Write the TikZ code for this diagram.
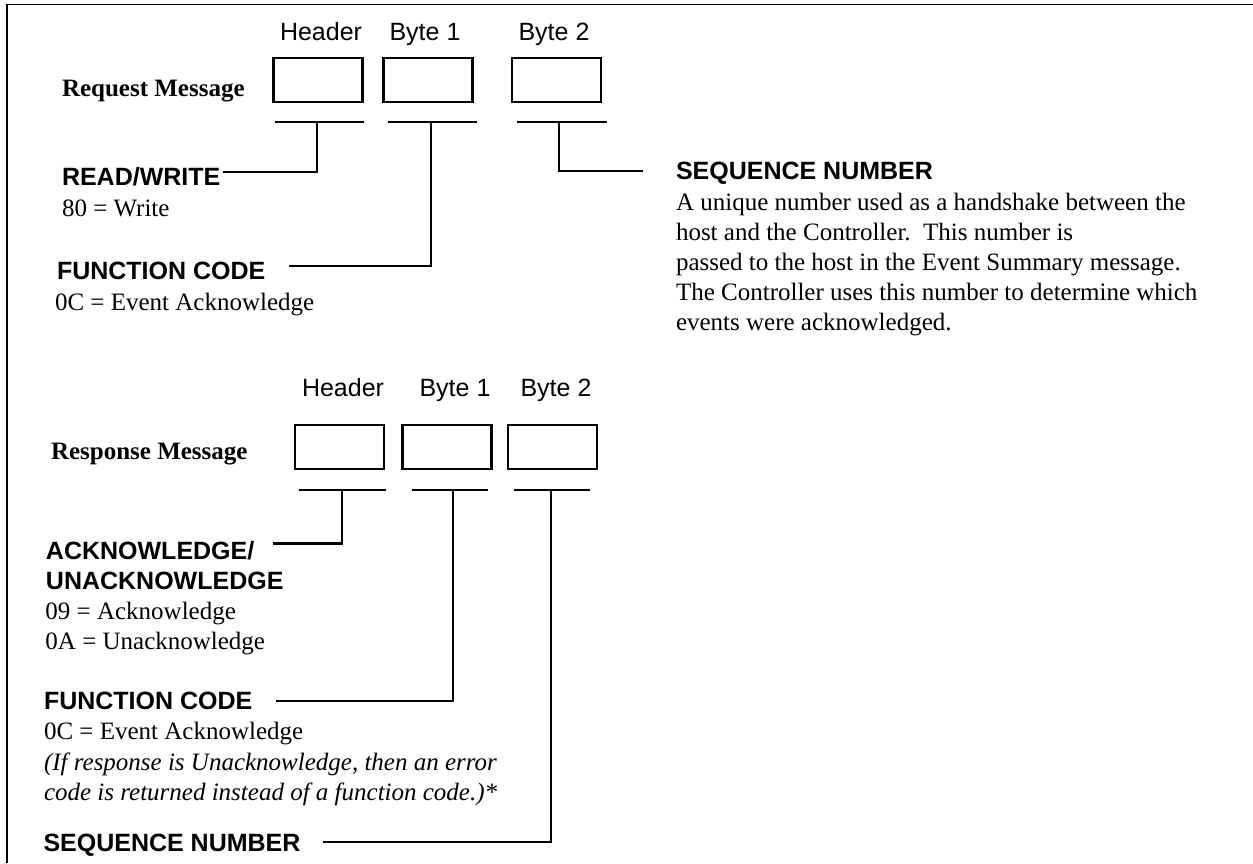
\documentclass[tikz,border=0pt]{standalone}
\usepackage{fontspec}
\setmainfont{Liberation Serif}
\newfontfamily\labelsans{Liberation Sans}
\begin{document}
\begin{tikzpicture}[x=0.5pt,y=-0.5pt,
  every node/.style={inner sep=0pt, outer sep=0pt},
  txt/.style={anchor=base west, font=\fontsize{12.5}{15}\selectfont},
  note/.style={anchor=base west, font=\itshape\fontsize{12.5}{15}\selectfont},
  msg/.style={anchor=base west, font=\bfseries\fontsize{12.5}{15}\selectfont},
  head/.style={anchor=base west, font=\labelsans\bfseries\fontsize{12.5}{15}\selectfont},
  fld/.style={anchor=base, font=\labelsans\fontsize{12.5}{15}\selectfont},
  cell/.style={draw, line width=1.2pt, minimum width=44.5pt, minimum height=22pt},
  bar/.style={line width=1.1pt},
  wire/.style={line width=1.1pt},
  frame/.style={line width=0.8pt}]

\useasboundingbox (0,0) rectangle (1253,863);

% open frame: left and top edges only
\coordinate (frBL) at (7,863);
\coordinate (frTL) at (7,4.5);
\coordinate (frTR) at (1253,4.5);
\draw[frame] (frBL) -- (frTL) -- (frTR);

% ---------------- Request message ----------------
\node[fld] (rqHlab) at (321,40.7) {Header};
\node[fld] (rqB1lab) at (425,40.7) {Byte 1};
\node[fld] (rqB2lab) at (554,40.7) {Byte 2};

\node[cell] (rqH)  at (318,79.7) {};
\node[cell] (rqB1) at (427.8,79.7) {};
\node[cell] (rqB2) at (556.7,79.7) {};

\node[msg] (rqMsg) at (62,96) {Request Message};

% underline bars and their taps
\coordinate (rqHbL) at (275,121.7);   \coordinate (rqHbR) at (364,121.7);
\coordinate (rqB1bL) at (388.3,121.7); \coordinate (rqB1bR) at (477.3,121.7);
\coordinate (rqB2bL) at (517.3,121.7); \coordinate (rqB2bR) at (606.7,121.7);
\draw[bar] (rqHbL) -- (rqHbR);
\draw[bar] (rqB1bL) -- (rqB1bR);
\draw[bar] (rqB2bL) -- (rqB2bR);
\coordinate (rqHtap) at (317.3,121.7);
\coordinate (rqB1tap) at (430.7,121.7);
\coordinate (rqB2tap) at (559,121.7);

% field descriptions
\node[head] (rw) at (62,185) {READ/WRITE};
\node[txt] (rwv) at (62,216) {80 = Write};
\node[head] (fc) at (57,279) {FUNCTION CODE};
\node[txt] (fcv) at (55,310) {0C = Event Acknowledge};

\node[head] (sq) at (676,179.3) {SEQUENCE NUMBER};
\node[txt] (sq1) at (676,210) {A unique number used as a handshake between the};
\node[txt] (sq2) at (676,240) {host and the Controller.\ \ This number is};
\node[txt] (sq3) at (676,270) {passed to the host in the Event Summary message.};
\node[txt] (sq4) at (676,300) {The Controller uses this number to determine which};
\node[txt] (sq5) at (676,330) {events were acknowledged.};

\coordinate (rwEnd) at (223,171.7);
\coordinate (fcEnd) at (289,266);
\coordinate (sqEnd) at (643,171);
\draw[wire] (rqHtap) |- (rwEnd);
\draw[wire] (rqB1tap) |- (fcEnd);
\draw[wire] (rqB2tap) |- (sqEnd);

% ---------------- Response message ----------------
\node[fld] (rsHlab) at (343,396.7) {Header};
\node[fld] (rsB1lab) at (455,396.7) {Byte 1};
\node[fld] (rsB2lab) at (556,396.7) {Byte 2};

\node[cell] (rsH)  at (339.3,447.2) {};
\node[cell] (rsB1) at (446.8,447.2) {};
\node[cell] (rsB2) at (552.3,447.2) {};

\node[msg] (rsMsg) at (51,459) {Response Message};

\coordinate (rsHbL) at (298.8,490);  \coordinate (rsHbR) at (386,490);
\coordinate (rsB1bL) at (411.6,490); \coordinate (rsB1bR) at (488,490);
\coordinate (rsB2bL) at (514,490);   \coordinate (rsB2bR) at (590,490);
\draw[bar] (rsHbL) -- (rsHbR);
\draw[bar] (rsB1bL) -- (rsB1bR);
\draw[bar] (rsB2bL) -- (rsB2bR);
\coordinate (rsHtap) at (341.7,490);
\coordinate (rsB1tap) at (453.3,490);
\coordinate (rsB2tap) at (551.3,490);

\node[head] (ak1) at (46,559) {ACKNOWLEDGE/};
\node[head] (ak2) at (46,589) {UNACKNOWLEDGE};
\node[txt] (akv1) at (45.5,619) {09 = Acknowledge};
\node[txt] (akv2) at (45.5,649) {0A = Unacknowledge};
\node[head] (rfc) at (44,709) {FUNCTION CODE};
\node[txt] (rfcv) at (44,739) {0C = Event Acknowledge};
\node[note] (rfn1) at (44,770) {(If response is Unacknowledge, then an error};
\node[note] (rfn2) at (44,800) {code is returned instead of a function code.)*};
\node[head] (rsq) at (43.5,851) {SEQUENCE NUMBER};

\coordinate (akEnd) at (273,543.5);
\coordinate (rfcEnd) at (276,700.7);
\coordinate (rsqEnd) at (323,841.7);
\draw[wire] (rsHtap) |- (akEnd);
\draw[wire] (rsB1tap) |- (rfcEnd);
\draw[wire] (rsB2tap) |- (rsqEnd);

\end{tikzpicture}
\end{document}
